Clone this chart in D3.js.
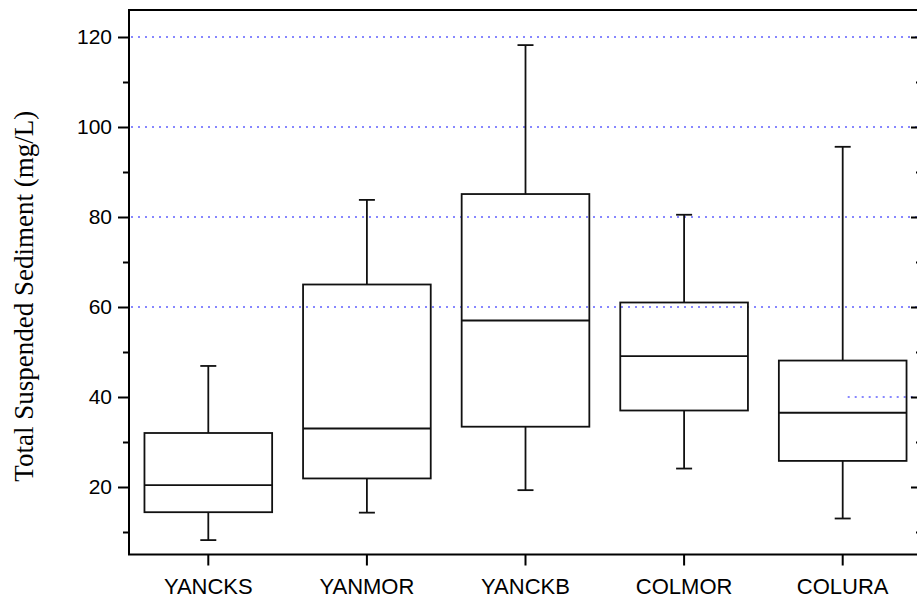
<!DOCTYPE html>
<html>
<head>
<meta charset="utf-8">
<script src="https://cdn.jsdelivr.net/npm/d3@7/dist/d3.min.js"></script>
<style>
  html, body { margin: 0; padding: 0; background: #fff; }
  svg { display: block; }
</style>
</head>
<body>
<svg id="chart" width="917" height="600"></svg>
<script>
// ---- data ----
const categories   = ["YANCKS", "YANMOR", "YANCKB", "COLMOR", "COLURA"];
const whiskerLow   = [8.2, 14.3, 19.3, 24.1, 13.0];
const q1           = [14.4, 21.9, 33.4, 37.0, 25.8];
const median       = [20.4, 33.0, 57.0, 49.1, 36.5];
const q3           = [32.0, 65.0, 85.1, 61.0, 48.1];
const whiskerHigh  = [46.9, 83.8, 118.2, 80.5, 95.6];
const yTicks       = [20, 40, 60, 80, 100, 120];
const yMinorTicks  = [10, 30, 50, 70, 90, 110];
const gridValues   = [60, 80, 100, 120];
const partialGrid  = [{ value: 40, from: "COLURA" }];
const yTitle       = "Total Suspended Sediment (mg/L)";

(function () {
// ---- layout ----
const svg = d3.select("#chart");
const pLeft = 129, pRight = 922, pTop = 10, pBottom = 554.5;

const x = d3.scaleBand().domain(categories).range([pLeft, pRight]).padding(0);
const y = d3.scaleLinear().domain([5, 126]).range([pBottom, pTop]);

const boxes = categories.map((c, i) => ({
  cat: c, lo: whiskerLow[i], q1: q1[i], med: median[i], q3: q3[i], hi: whiskerHigh[i]
}));

// gridlines
const gridG = svg.append("g");
gridG.selectAll("line.grid").data(gridValues).join("line")
  .attr("x1", pLeft + 2).attr("x2", pRight)
  .attr("y1", d => y(d)).attr("y2", d => y(d))
  .attr("stroke", "#1010ff").attr("stroke-width", 1.2)
  .attr("stroke-dasharray", "2,5");
gridG.selectAll("line.pgrid").data(partialGrid).join("line")
  .attr("x1", d => x(d.from) + x.bandwidth() / 2 + 5).attr("x2", pRight)
  .attr("y1", d => y(d.value)).attr("y2", d => y(d.value))
  .attr("stroke", "#1010ff").attr("stroke-width", 1.2)
  .attr("stroke-dasharray", "2,5");

// boxes
const bw = x.bandwidth() * 0.805;
const capW = 16;
const bg = svg.append("g").attr("stroke", "#111").attr("fill", "none").attr("stroke-width", 1.8);
const g = bg.selectAll("g.box").data(boxes).join("g")
  .attr("transform", d => `translate(${x(d.cat) + x.bandwidth() / 2},0)`);
g.append("line").attr("x1", 0).attr("x2", 0).attr("y1", d => y(d.hi)).attr("y2", d => y(d.q3));
g.append("line").attr("x1", 0).attr("x2", 0).attr("y1", d => y(d.q1)).attr("y2", d => y(d.lo));
g.append("line").attr("x1", -capW / 2).attr("x2", capW / 2).attr("y1", d => y(d.hi)).attr("y2", d => y(d.hi));
g.append("line").attr("x1", -capW / 2).attr("x2", capW / 2).attr("y1", d => y(d.lo)).attr("y2", d => y(d.lo));
g.append("rect").attr("x", -bw / 2).attr("width", bw)
  .attr("y", d => y(d.q3)).attr("height", d => y(d.q1) - y(d.q3));
g.append("line").attr("x1", -bw / 2).attr("x2", bw / 2).attr("y1", d => y(d.med)).attr("y2", d => y(d.med));

// axes
const fontSans = "Arial, 'Liberation Sans', Helvetica, sans-serif";

const yAxis = svg.append("g").attr("transform", `translate(${pLeft},0)`)
  .call(d3.axisLeft(y).tickValues(yTicks).tickSize(11).tickSizeOuter(0).tickPadding(6));
yAxis.select(".domain").remove();
yAxis.selectAll("line").attr("stroke", "#000").attr("stroke-width", 2);
yAxis.selectAll("text").attr("font-family", fontSans).attr("font-size", 21).attr("fill", "#000");

const yMinor = svg.append("g").attr("transform", `translate(${pLeft},0)`)
  .call(d3.axisLeft(y).tickValues(yMinorTicks).tickSize(6).tickSizeOuter(0).tickFormat(""));
yMinor.select(".domain").remove();
yMinor.selectAll("line").attr("stroke", "#000").attr("stroke-width", 2);

// right mirrored axis (ticks pointing inward)
const yRight = svg.append("g").attr("transform", `translate(${pRight},0)`)
  .call(d3.axisLeft(y).tickValues(yTicks).tickSize(11).tickSizeOuter(0).tickFormat(""));
yRight.select(".domain").remove();
yRight.selectAll("line").attr("stroke", "#000").attr("stroke-width", 2);
const yRightMinor = svg.append("g").attr("transform", `translate(${pRight},0)`)
  .call(d3.axisLeft(y).tickValues(yMinorTicks).tickSize(6).tickSizeOuter(0).tickFormat(""));
yRightMinor.select(".domain").remove();
yRightMinor.selectAll("line").attr("stroke", "#000").attr("stroke-width", 2);

const xAxis = svg.append("g").attr("transform", `translate(0,${pBottom})`)
  .call(d3.axisBottom(x).tickSize(11).tickSizeOuter(0).tickPadding(13));
xAxis.select(".domain").remove();
xAxis.selectAll("line").attr("stroke", "#000").attr("stroke-width", 2);
xAxis.selectAll("text").attr("font-family", fontSans).attr("font-size", 22).attr("fill", "#000");

// frame
svg.append("rect")
  .attr("x", pLeft).attr("y", pTop)
  .attr("width", pRight - pLeft).attr("height", pBottom - pTop)
  .attr("fill", "none").attr("stroke", "#000").attr("stroke-width", 2);

// y title
svg.append("text")
  .attr("transform", `translate(33,${(pTop + pBottom) / 2 + 14}) rotate(-90)`)
  .attr("text-anchor", "middle")
  .attr("font-family", "'Times New Roman', 'Liberation Serif', serif")
  .attr("font-size", 27)
  .attr("fill", "#000")
  .text(yTitle);
})();
</script>
</body>
</html>
